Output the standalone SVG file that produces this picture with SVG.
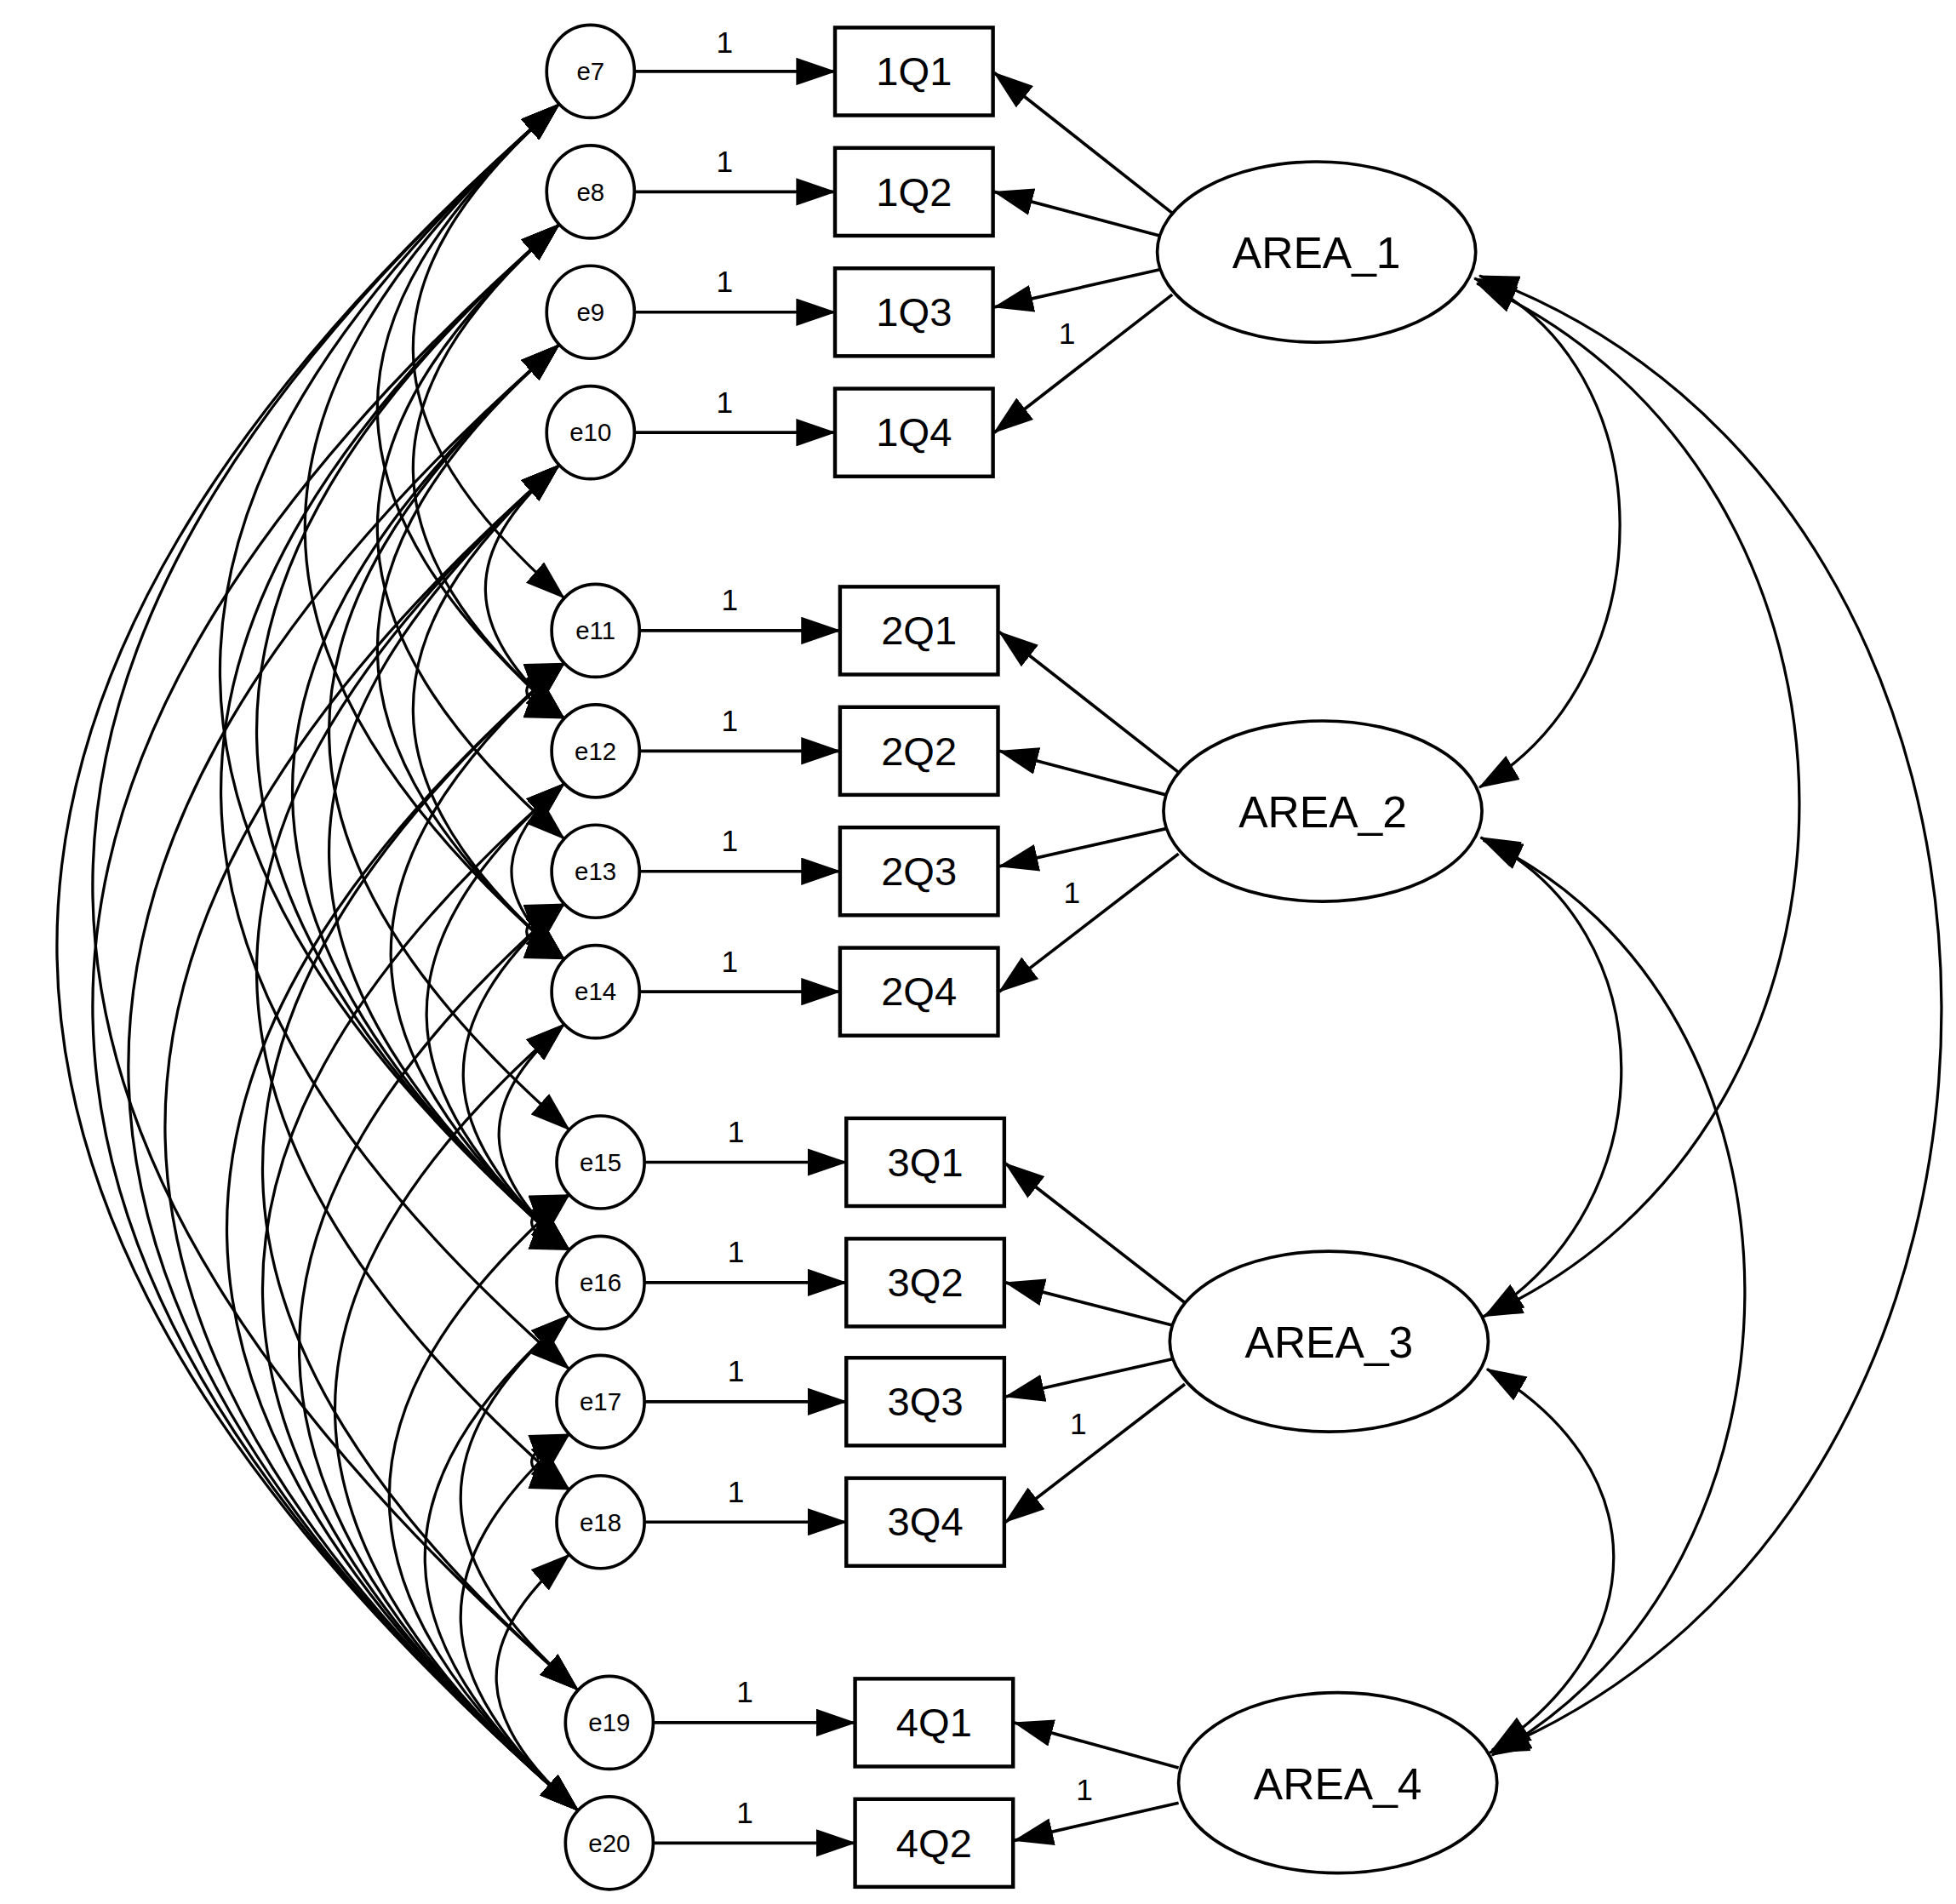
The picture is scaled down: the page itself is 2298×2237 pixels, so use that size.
<svg xmlns="http://www.w3.org/2000/svg" width="2298" height="2237" viewBox="0 0 2298 2237">
<defs>
<marker id="ah" markerUnits="userSpaceOnUse" markerWidth="32" markerHeight="22" refX="31" refY="11" orient="auto-start-reverse" viewBox="0 0 32 22"><path d="M0,0 L32,11 L0,22 z" fill="#000"/></marker>
<style>
.e{fill:#fff;stroke:#000;stroke-width:2.5}
.r{fill:#fff;stroke:#000;stroke-width:3}
.c{fill:none;stroke:#000;stroke-width:2.2;marker-start:url(#ah);marker-end:url(#ah)}
.a{fill:none;stroke:#000;stroke-width:2.5;marker-end:url(#ah)}
text{font-family:"Liberation Sans",Arial,sans-serif;text-anchor:middle;fill:#000}
.te{font-size:20px}
.tq{font-size:32px}
.ta{font-size:35px}
.t1{font-size:24px}
</style>
</defs>
<rect width="2298" height="2237" fill="#fff"/>
<g transform="scale(1.473)">
<g id="connectors">
<path class="c" d="M446,83 C288,221 292,339 450,477"/>
<path class="c" d="M446,83 C250,255 254,401 450,573"/>
<path class="c" d="M446,83 C173,322 177,526 450,765"/>
<path class="c" d="M446,83 C80,403 88,677 454,997"/>
<path class="c" d="M446,83 C-60,526 -45,905 461,1348"/>
<path class="c" d="M446,83 C-98,559 -83,968 461,1444"/>
<path class="c" d="M446,179 C288,317 292,435 450,573"/>
<path class="c" d="M446,179 C250,351 254,497 450,669"/>
<path class="c" d="M446,179 C119,465 127,711 454,997"/>
<path class="c" d="M446,179 C81,499 89,772 454,1092"/>
<path class="c" d="M446,179 C-60,622 -45,1001 461,1444"/>
<path class="c" d="M446,275 C250,447 254,593 450,765"/>
<path class="c" d="M446,275 C196,494 204,682 454,901"/>
<path class="c" d="M446,275 C157,528 165,744 454,997"/>
<path class="c" d="M446,275 C-22,684 -7,1035 461,1444"/>
<path class="c" d="M446,371 C365,442 369,502 450,573"/>
<path class="c" d="M446,371 C288,509 292,627 450,765"/>
<path class="c" d="M446,371 C196,590 204,778 454,997"/>
<path class="c" d="M446,371 C119,657 127,902 454,1188"/>
<path class="c" d="M446,371 C17,747 32,1068 461,1444"/>
<path class="c" d="M450,529 C410,544 410,558 450,573"/>
<path class="c" d="M450,529 C263,693 267,833 454,997"/>
<path class="c" d="M450,529 C122,816 133,1061 461,1348"/>
<path class="c" d="M450,529 C84,849 95,1124 461,1444"/>
<path class="c" d="M450,625 C394,674 394,716 450,765"/>
<path class="c" d="M450,625 C301,755 305,867 454,997"/>
<path class="c" d="M450,625 C122,912 133,1157 461,1444"/>
<path class="c" d="M450,721 C410,736 410,750 450,765"/>
<path class="c" d="M450,721 C340,818 344,900 454,997"/>
<path class="c" d="M450,721 C161,974 172,1191 461,1444"/>
<path class="c" d="M450,817 C378,880 382,934 454,997"/>
<path class="c" d="M450,817 C199,1036 210,1225 461,1444"/>
<path class="c" d="M454,953 C414,968 414,982 454,997"/>
<path class="c" d="M454,953 C258,1125 265,1272 461,1444"/>
<path class="c" d="M454,1049 C334,1154 341,1243 461,1348"/>
<path class="c" d="M454,1049 C296,1187 303,1306 461,1444"/>
<path class="c" d="M454,1144 C414,1159 414,1173 454,1188"/>
<path class="c" d="M454,1144 C334,1249 341,1339 461,1444"/>
<path class="c" d="M454,1240 C372,1311 379,1373 461,1444"/>
<path class="c" d="M1176,222 C1330,290 1330,540 1180,628"/>
<path class="c" d="M1178,226 C1520,380 1520,900 1183,1050"/>
<path class="c" d="M1180,220 C1670,400 1670,1200 1188,1398"/>
<path class="c" d="M1181,668 C1330,740 1330,960 1184,1050"/>
<path class="c" d="M1183,670 C1460,800 1460,1250 1190,1400"/>
<path class="c" d="M1186,1092 C1320,1170 1320,1310 1190,1396"/>
<path class="a" d="M506,57 H666"/><path class="a" d="M506,153 H666"/><path class="a" d="M506,249 H666"/><path class="a" d="M506,345 H666"/>
<path class="a" d="M510,503 H670"/><path class="a" d="M510,599 H670"/><path class="a" d="M510,695 H670"/><path class="a" d="M510,791 H670"/>
<path class="a" d="M514,927 H675"/><path class="a" d="M514,1023 H675"/><path class="a" d="M514,1118 H675"/><path class="a" d="M514,1214 H675"/>
<path class="a" d="M521,1374 H682"/><path class="a" d="M521,1470 H682"/>
<path class="a" d="M935,170 L793,58"/><path class="a" d="M925,188 L793,153"/><path class="a" d="M925,215 L793,245"/><path class="a" d="M935,235 L793,345"/>
<path class="a" d="M940,616 L797,504"/><path class="a" d="M930,634 L797,599"/><path class="a" d="M930,661 L797,691"/><path class="a" d="M940,681 L797,791"/>
<path class="a" d="M945,1039 L802,928"/><path class="a" d="M935,1057 L802,1023"/><path class="a" d="M935,1084 L802,1114"/><path class="a" d="M945,1104 L802,1214"/>
<path class="a" d="M940,1410 L809,1374"/><path class="a" d="M940,1438 L809,1468"/>
</g>
<g id="labels1" class="t1">
<text x="578" y="42">1</text><text x="578" y="137">1</text><text x="578" y="233">1</text><text x="578" y="329">1</text>
<text x="582" y="487">1</text><text x="582" y="583">1</text><text x="582" y="679">1</text><text x="582" y="775">1</text>
<text x="587" y="911">1</text><text x="587" y="1007">1</text><text x="587" y="1102">1</text><text x="587" y="1198">1</text>
<text x="594" y="1358">1</text><text x="594" y="1454">1</text>
<text x="851" y="274">1</text><text x="855" y="720">1</text><text x="860" y="1144">1</text><text x="865" y="1436">1</text>
</g>
<g id="e7"><ellipse class="e" cx="471" cy="57" rx="35" ry="37"/><text class="te" x="471" y="64">e7</text></g>
<g id="e8"><ellipse class="e" cx="471" cy="153" rx="35" ry="37"/><text class="te" x="471" y="160">e8</text></g>
<g id="e9"><ellipse class="e" cx="471" cy="249" rx="35" ry="37"/><text class="te" x="471" y="256">e9</text></g>
<g id="e10"><ellipse class="e" cx="471" cy="345" rx="35" ry="37"/><text class="te" x="471" y="352">e10</text></g>
<g id="e11"><ellipse class="e" cx="475" cy="503" rx="35" ry="37"/><text class="te" x="475" y="510">e11</text></g>
<g id="e12"><ellipse class="e" cx="475" cy="599" rx="35" ry="37"/><text class="te" x="475" y="606">e12</text></g>
<g id="e13"><ellipse class="e" cx="475" cy="695" rx="35" ry="37"/><text class="te" x="475" y="702">e13</text></g>
<g id="e14"><ellipse class="e" cx="475" cy="791" rx="35" ry="37"/><text class="te" x="475" y="798">e14</text></g>
<g id="e15"><ellipse class="e" cx="479" cy="927" rx="35" ry="37"/><text class="te" x="479" y="934">e15</text></g>
<g id="e16"><ellipse class="e" cx="479" cy="1023" rx="35" ry="37"/><text class="te" x="479" y="1030">e16</text></g>
<g id="e17"><ellipse class="e" cx="479" cy="1118" rx="35" ry="37"/><text class="te" x="479" y="1125">e17</text></g>
<g id="e18"><ellipse class="e" cx="479" cy="1214" rx="35" ry="37"/><text class="te" x="479" y="1221">e18</text></g>
<g id="e19"><ellipse class="e" cx="486" cy="1374" rx="35" ry="37"/><text class="te" x="486" y="1381">e19</text></g>
<g id="e20"><ellipse class="e" cx="486" cy="1470" rx="35" ry="37"/><text class="te" x="486" y="1477">e20</text></g>
<g id="n1Q1"><rect class="r" x="666" y="22" width="126" height="70"/><text class="tq" x="729" y="68">1Q1</text></g>
<g id="n1Q2"><rect class="r" x="666" y="118" width="126" height="70"/><text class="tq" x="729" y="164">1Q2</text></g>
<g id="n1Q3"><rect class="r" x="666" y="214" width="126" height="70"/><text class="tq" x="729" y="260">1Q3</text></g>
<g id="n1Q4"><rect class="r" x="666" y="310" width="126" height="70"/><text class="tq" x="729" y="356">1Q4</text></g>
<g id="n2Q1"><rect class="r" x="670" y="468" width="126" height="70"/><text class="tq" x="733" y="514">2Q1</text></g>
<g id="n2Q2"><rect class="r" x="670" y="564" width="126" height="70"/><text class="tq" x="733" y="610">2Q2</text></g>
<g id="n2Q3"><rect class="r" x="670" y="660" width="126" height="70"/><text class="tq" x="733" y="706">2Q3</text></g>
<g id="n2Q4"><rect class="r" x="670" y="756" width="126" height="70"/><text class="tq" x="733" y="802">2Q4</text></g>
<g id="n3Q1"><rect class="r" x="675" y="892" width="126" height="70"/><text class="tq" x="738" y="938">3Q1</text></g>
<g id="n3Q2"><rect class="r" x="675" y="988" width="126" height="70"/><text class="tq" x="738" y="1034">3Q2</text></g>
<g id="n3Q3"><rect class="r" x="675" y="1083" width="126" height="70"/><text class="tq" x="738" y="1129">3Q3</text></g>
<g id="n3Q4"><rect class="r" x="675" y="1179" width="126" height="70"/><text class="tq" x="738" y="1225">3Q4</text></g>
<g id="n4Q1"><rect class="r" x="682" y="1339" width="126" height="70"/><text class="tq" x="745" y="1385">4Q1</text></g>
<g id="n4Q2"><rect class="r" x="682" y="1435" width="126" height="70"/><text class="tq" x="745" y="1481">4Q2</text></g>
<g id="AREA_1"><ellipse class="e" cx="1050" cy="201" rx="127" ry="72"/><text class="ta" x="1050" y="214">AREA_1</text></g>
<g id="AREA_2"><ellipse class="e" cx="1055" cy="647" rx="127" ry="72"/><text class="ta" x="1055" y="660">AREA_2</text></g>
<g id="AREA_3"><ellipse class="e" cx="1060" cy="1070" rx="127" ry="72"/><text class="ta" x="1060" y="1083">AREA_3</text></g>
<g id="AREA_4"><ellipse class="e" cx="1067" cy="1422" rx="127" ry="72"/><text class="ta" x="1067" y="1435">AREA_4</text></g>
</g>
</svg>
